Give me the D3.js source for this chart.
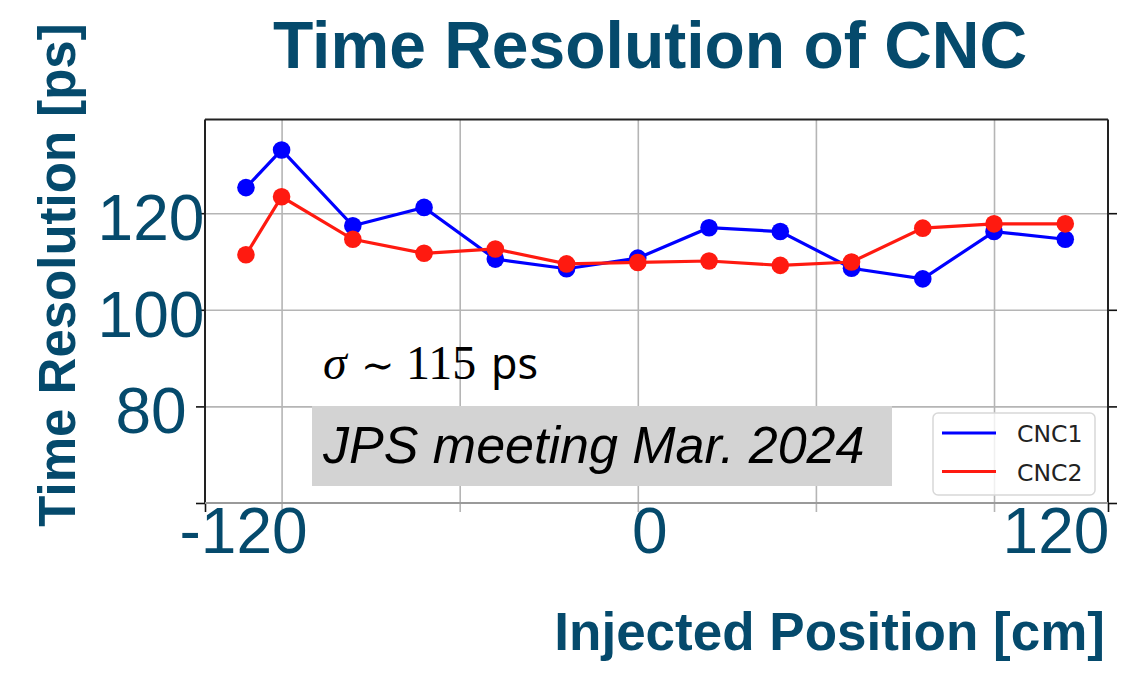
<!DOCTYPE html>
<html>
<head>
<meta charset="utf-8">
<script src="https://cdn.jsdelivr.net/npm/d3@7"></script>
<style>
  body { margin: 0; background: #fff; }
  svg { display: block; }
  .domain { display: none; }
</style>
</head>
<body>
<div id="chart"></div>
<script>
// data
const positions = [-132, -120, -96, -72, -48, -24, 0, 24, 48, 72, 96, 120, 144];
const cnc1 = [125.3, 133.1, 117.4, 121.2, 110.5, 108.5, 110.7, 117.0, 116.2, 108.6, 106.4, 116.2, 114.6];
const cnc2 = [111.4, 123.4, 114.6, 111.7, 112.6, 109.5, 109.8, 110.1, 109.2, 109.9, 116.9, 117.8, 117.8];
const seriesNames = ['CNC1', 'CNC2'];
const xTickLabels = [-120, 0, 120];
const yTickLabels = [120, 100, 80];
const gridX = [-120, -60, 0, 60, 120];
const gridY = [60, 80, 100, 120];

const W = 1127, H = 678;
const margin = { top: 119.5, right: 19, bottom: 175, left: 205 };
const ink = '#054a6c';
const sans = '"Liberation Sans", Arial, sans-serif';

const svg = d3.select('#chart').append('svg')
  .attr('width', W)
  .attr('height', H);

// scales
const x = d3.scaleLinear()
  .domain([-145.8, 158.4])
  .range([margin.left, W - margin.right]);

const y = d3.scaleLinear()
  .domain([60, 139.4])
  .range([H - margin.bottom, margin.top]);

// the big slide labels sit a little off the real ticks
const xLabelPos = d3.scaleLinear()
  .domain([-120, 120])
  .range([x(-120) - 38, x(120) + 62]);

// grid
svg.append('g')
  .attr('transform', `translate(0, ${ y.range()[0] })`)
  .call(d3.axisBottom(x).tickValues(gridX).tickSize(-(y.range()[0] - y.range()[1])).tickFormat(''))
  .call(g => g.selectAll('.tick line').attr('stroke', '#b5b5b5').attr('stroke-width', 1.6).attr('y1', 9));

svg.append('g')
  .attr('transform', `translate(${ margin.left }, 0)`)
  .call(d3.axisLeft(y).tickValues(gridY.slice(1)).tickSize(-(x.range()[1] - x.range()[0])).tickFormat(''))
  .call(g => g.selectAll('.tick line').attr('stroke', '#b5b5b5').attr('stroke-width', 1.6));

// outer ticks (left, right, bottom ends)
svg.append('g')
  .attr('transform', `translate(${ margin.left }, 0)`)
  .call(d3.axisLeft(y).tickValues(gridY).tickSize(9).tickFormat(''))
  .call(g => g.selectAll('.tick line').attr('stroke', '#111').attr('stroke-width', 1.6));

svg.append('g')
  .attr('transform', `translate(${ W - margin.right }, 0)`)
  .call(d3.axisRight(y).tickValues(gridY).tickSize(9).tickFormat(''))
  .call(g => g.selectAll('.tick line').attr('stroke', '#111').attr('stroke-width', 1.6));

svg.append('g')
  .attr('transform', `translate(0, ${ y.range()[0] })`)
  .call(d3.axisBottom(x).tickValues(x.domain()).tickSize(9).tickFormat(''))
  .call(g => g.selectAll('.tick line').attr('stroke', '#111').attr('stroke-width', 1.6));

// frame
const [x0, x1] = x.range();
const [yb, yt] = y.range();
svg.append('line').attr('x1', x0).attr('x2', x1).attr('y1', yt).attr('y2', yt)
  .attr('stroke', '#222').attr('stroke-width', 2);
svg.append('line').attr('x1', x0).attr('x2', x0).attr('y1', yt).attr('y2', yb)
  .attr('stroke', '#222').attr('stroke-width', 2);
svg.append('line').attr('x1', x1).attr('x2', x1).attr('y1', yt).attr('y2', yb)
  .attr('stroke', '#222').attr('stroke-width', 2);
svg.append('line').attr('x1', x0).attr('x2', x1).attr('y1', yb).attr('y2', yb)
  .attr('stroke', '#9a9a9a').attr('stroke-width', 2);

// series
const series = [
  { name: seriesNames[0], values: cnc1, color: '#0000ff' },
  { name: seriesNames[1], values: cnc2, color: '#ff1a10' }
];

const line = d3.line()
  .x(d => x(d[0]))
  .y(d => y(d[1]));

series.forEach(s => {
  const pts = positions.map((p, i) => [p, s.values[i]]);
  svg.append('path')
    .datum(pts)
    .attr('fill', 'none')
    .attr('stroke', s.color)
    .attr('stroke-width', 3.2)
    .attr('d', line);
  svg.append('g')
    .selectAll('circle')
    .data(pts)
    .enter()
    .append('circle')
      .attr('cx', d => x(d[0]))
      .attr('cy', d => y(d[1]))
      .attr('r', 8.8)
      .attr('fill', s.color);
});

// annotations
const sigma = svg.append('text')
  .attr('x', 323)
  .attr('y', 379)
  .attr('fill', '#000')
  .style('font-size', '48px');
sigma.append('tspan').text('σ').style('font-family', '"Liberation Serif", serif').style('font-style', 'italic');
sigma.append('tspan').attr('x', 361).text('∼').style('font-family', '"DejaVu Serif", serif').style('font-size', '40px');
sigma.append('tspan').attr('x', 406).text('115').style('font-family', '"Liberation Serif", serif');
sigma.append('tspan').attr('x', 491).text('ps').style('font-family', '"Noto Sans", sans-serif').style('font-size', '43px');

svg.append('rect')
  .attr('x', 312).attr('y', 406).attr('width', 580).attr('height', 80)
  .attr('fill', '#d3d3d3');
svg.append('text')
  .attr('x', 323).attr('y', 463)
  .attr('fill', '#000')
  .style('font-family', sans)
  .style('font-style', 'italic')
  .style('font-size', '52px')
  .text('JPS meeting Mar. 2024');

// legend
const legend = svg.append('g').attr('transform', 'translate(933, 413)');
legend.append('rect')
  .attr('width', 162).attr('height', 82).attr('rx', 5)
  .attr('fill', '#fff').attr('fill-opacity', 0.8)
  .attr('stroke', '#d8d8d8').attr('stroke-width', 1.5);
series.forEach((s, i) => {
  legend.append('line')
    .attr('x1', 9).attr('x2', 63)
    .attr('y1', 20 + i * 38.5).attr('y2', 20 + i * 38.5)
    .attr('stroke', s.color).attr('stroke-width', 3);
  legend.append('text')
    .attr('x', 84).attr('y', 29 + i * 38.5)
    .attr('fill', '#222')
    .style('font-family', '"DejaVu Sans", sans-serif')
    .style('font-size', '23.5px')
    .text(s.name);
});

// big tick labels
svg.append('g').selectAll('text')
  .data(xTickLabels)
  .enter()
  .append('text')
    .attr('x', d => xLabelPos(d))
    .attr('y', 553)
    .attr('text-anchor', 'middle')
    .attr('fill', ink)
    .style('font-family', sans)
    .style('font-size', '64px')
    .text(d => d);

svg.append('g').selectAll('text')
  .data(yTickLabels)
  .enter()
  .append('text')
    .attr('x', 151)
    .attr('y', d => y(d) + 27)
    .attr('text-anchor', 'middle')
    .attr('fill', ink)
    .style('font-family', sans)
    .style('font-size', '64px')
    .text(d => d);

// titles
svg.append('text')
  .attr('x', 273).attr('y', 68)
  .attr('fill', ink)
  .style('font-family', sans)
  .style('font-weight', 'bold')
  .style('font-size', '66px')
  .text('Time Resolution of CNC');

svg.append('text')
  .attr('transform', 'translate(75, 275) rotate(-90)')
  .attr('text-anchor', 'middle')
  .attr('fill', ink)
  .style('font-family', sans)
  .style('font-weight', 'bold')
  .style('font-size', '51px')
  .text('Time Resolution [ps]');

svg.append('text')
  .attr('x', 1105).attr('y', 650)
  .attr('text-anchor', 'end')
  .attr('fill', ink)
  .style('font-family', sans)
  .style('font-weight', 'bold')
  .style('font-size', '53px')
  .text('Injected Position [cm]');
</script>
</body>
</html>
